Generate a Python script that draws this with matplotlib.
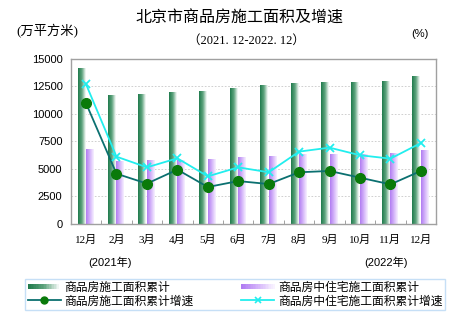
import numpy as np
import matplotlib
matplotlib.use("Agg")
import matplotlib.pyplot as plt
from matplotlib.colors import LinearSegmentedColormap
from matplotlib.legend_handler import HandlerBase
from matplotlib.patches import Rectangle
from matplotlib.lines import Line2D

plt.rcParams['font.family'] = ['Liberation Sans', 'Noto Sans CJK SC', 'DejaVu Sans']

months = ['12月', '2月', '3月', '4月', '5月', '6月', '7月', '8月', '9月', '10月', '11月', '12月']
area_total = [14100, 11650, 11750, 12000, 12030, 12300, 12550, 12760, 12880, 12870, 12970, 13390]
area_resid = [6820, 5660, 5730, 5800, 5900, 6060, 6180, 6300, 6360, 6300, 6390, 6700]
growth_total = [10970, 4570, 3670, 4940, 3360, 3900, 3630, 4700, 4820, 4210, 3600, 4820]
growth_resid = [12700, 6120, 5150, 5970, 4330, 5150, 4700, 6580, 6940, 6250, 5940, 7360]
yticks = [0, 2500, 5000, 7500, 10000, 12500, 15000]

GREEN = '#1f7a4c'
PURPLE = '#b07cf2'
green_cm = LinearSegmentedColormap.from_list('g', [GREEN, '#5fa47e', '#ffffff'])
purple_cm = LinearSegmentedColormap.from_list('p', [PURPLE, '#d4b4fa', '#f8f2ff'])
grad = np.linspace(0, 1, 64).reshape(1, -1)

SERIF = ['Liberation Serif', 'Noto Sans CJK SC']


def gradient_bars(ax, bars, cmap):
    for b in bars:
        x, w, h = b.get_x(), b.get_width(), b.get_height()
        ax.imshow(grad, cmap=cmap, extent=[x, x + w, 0, h], aspect='auto',
                  zorder=2, interpolation='bilinear')
        b.set_visible(False)


class GradHandler(HandlerBase):
    def __init__(self, cmap):
        super().__init__()
        self.cmap = cmap

    def create_artists(self, legend, orig, xd, yd, width, height, fontsize, trans):
        out = []
        n = 20
        for k in range(n):
            r = Rectangle((xd + width * k / n, yd + height * 0.15), width / n + 0.3, height * 0.7,
                          facecolor=self.cmap(k / (n - 1)), edgecolor='none', transform=trans)
            out.append(r)
        return out


fig = plt.figure(figsize=(4.6, 3.26), dpi=100)
ax = fig.add_axes([0.154, 0.313, 0.794, 0.506])

x = np.arange(len(months))
b1 = ax.bar(x - 0.28, area_total, 0.25, align='edge', color=GREEN)
b2 = ax.bar(x + 0.0, area_resid, 0.23, align='edge', color=PURPLE)
gradient_bars(ax, b1, green_cm)
gradient_bars(ax, b2, purple_cm)

ax.plot(x, growth_total, color='#0b7070', lw=1.3, marker='o', ms=7,
        mfc='#0a7a0a', mec='#0a7a0a', zorder=4)
ax.plot(x, growth_resid, color='#22eeee', lw=1.3, marker='x', ms=6,
        mew=1.3, zorder=4)

ax.set_xlim(-0.5, len(months) - 0.5)
ax.set_ylim(0, 15000)
ax.set_yticks(yticks)
ax.set_yticklabels([str(v) for v in yticks], fontsize=8)
for v in yticks[1:-1]:
    ax.axhline(v, color='#c8c8c8', lw=0.6, ls=(0, (2, 2)), zorder=1)

ax.set_xticks(x)
ax.set_xticklabels(months, fontsize=8, family=SERIF)
ax.set_xticks(x[:-1] + 0.5, minor=True)
ax.tick_params(axis='x', which='major', length=0, pad=8)
ax.tick_params(axis='x', which='minor', length=3, direction='in', color='#909090')
ax.tick_params(axis='y', length=0, pad=6)
for s in ax.spines.values():
    s.set_color('#a0a0a0')
    s.set_linewidth(1.0)

fig.text(0.52, 0.945, '北京市商品房施工面积及增速', ha='center', va='center', fontsize=11.5)
fig.text(0.535, 0.875, '（2021. 12-2022. 12）', ha='center', va='center', fontsize=9,
         family=SERIF)
fig.text(0.035, 0.905, '(万平方米)', ha='left', va='center', fontsize=9.5, family=SERIF)
fig.text(0.895, 0.895, '(%)', ha='left', va='center', fontsize=8)
fig.text(0.24, 0.195, '(2021年)', ha='center', va='center', fontsize=8)
fig.text(0.84, 0.195, '(2022年)', ha='center', va='center', fontsize=8)

h1 = Rectangle((0, 0), 1, 1)
h2 = Rectangle((0, 0), 1, 1)
h3 = Line2D([], [], color='#0b7070', lw=1.3, marker='o', ms=5, mfc='#0a7a0a', mec='#0a7a0a')
h4 = Line2D([], [], color='#22eeee', lw=1.3, marker='x', ms=5, mew=1.2)
leg = fig.legend([h1, h3, h2, h4],
                 ['商品房施工面积累计', '商品房施工面积累计增速',
                  '商品房中住宅施工面积累计', '商品房中住宅施工面积累计增速'],
                 handler_map={h1: GradHandler(green_cm), h2: GradHandler(purple_cm)},
                 ncol=2, loc='lower left', bbox_to_anchor=(0.055, 0.05, 0.912, 0.11),
                 mode='expand', fontsize=8.5, frameon=True, fancybox=False,
                 borderpad=0.2, labelspacing=0.15, handlelength=2.8, handletextpad=0.3,
                 borderaxespad=0, columnspacing=1.0)
leg.get_frame().set_edgecolor('#b8d8f4')
leg.get_frame().set_linewidth(1.0)

fig.savefig('out.png', dpi=100)
